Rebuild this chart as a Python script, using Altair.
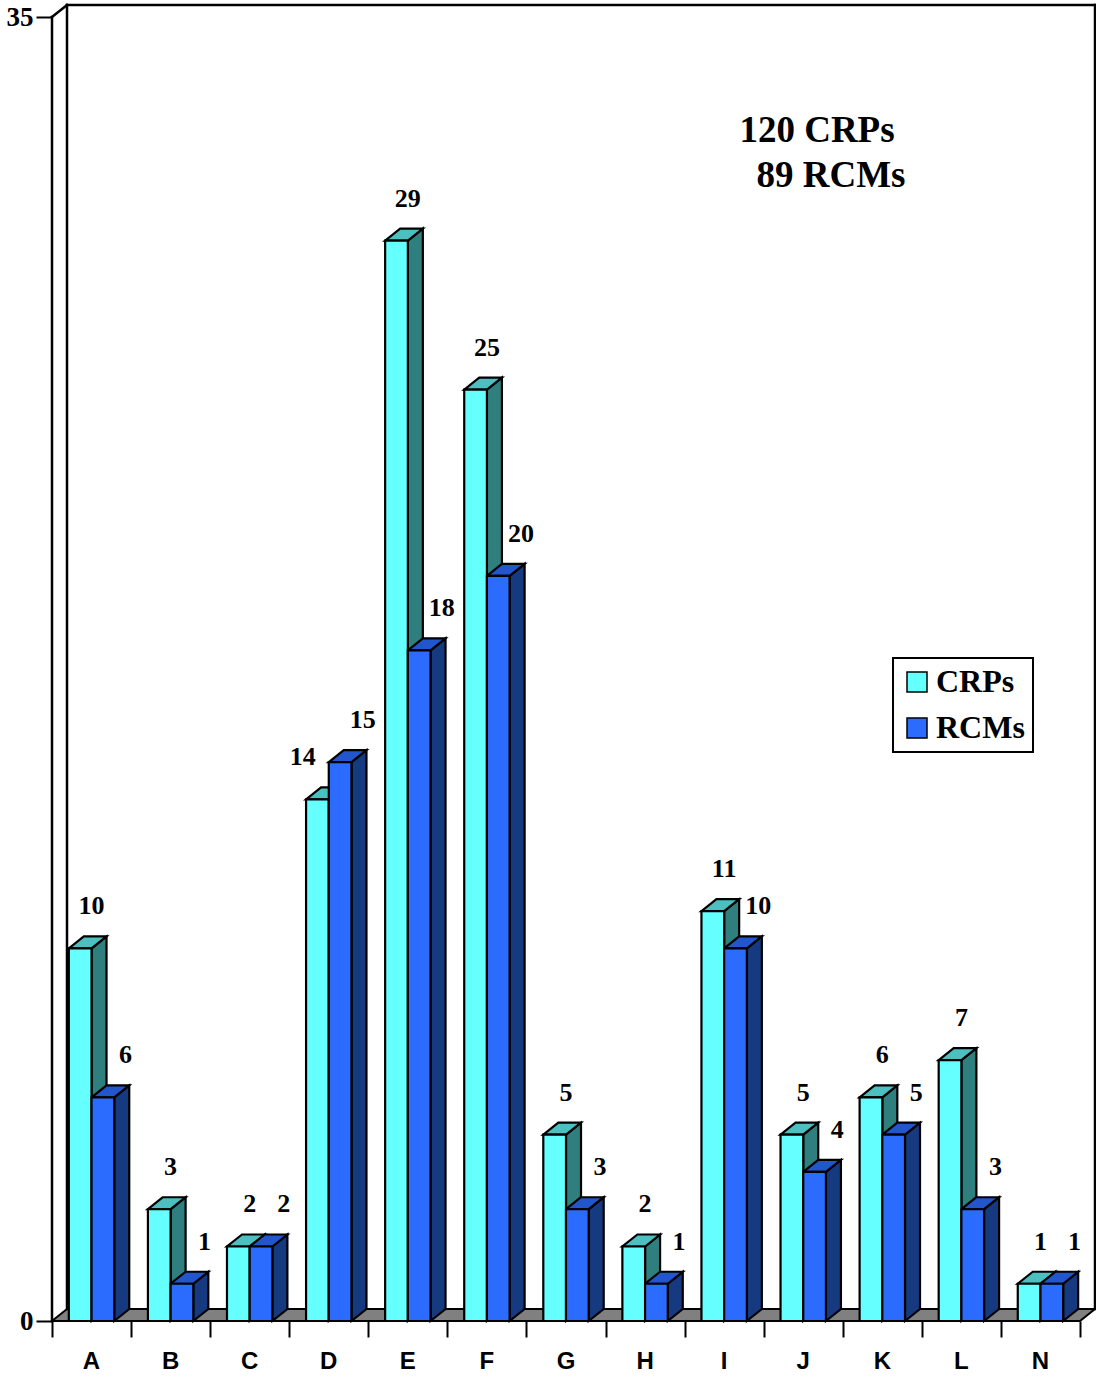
import altair as alt
import pandas as pd

# ---------------- data ----------------
categories = ["A", "B", "C", "D", "E", "F", "G", "H", "I", "J", "K", "L", "N"]
crps = [10, 3, 2, 14, 29, 25, 5, 2, 11, 5, 6, 7, 1]
rcms = [6, 1, 2, 15, 18, 20, 3, 1, 10, 4, 5, 3, 1]
series_names = ["CRPs", "RCMs"]
y_ticks = [0, 35]
note_lines = ["120 CRPs", "89 RCMs"]

# ---------------- geometry / style ----------------
PLOT_W, PLOT_H = 1044, 1316
N = len(categories)
PX_X = 1028 / N          # pixels per category
PX_Y = 1304 / 35         # pixels per unit
X_MAX = PLOT_W / PX_X
Y_MAX = PLOT_H / PX_Y
DX = 15 / PX_X           # depth offset (x)
DY = 12 / PX_Y           # depth offset (y)
BW = 22.7 / PX_X         # bar width

front_col = {"CRPs": "#66FFFF", "RCMs": "#2B6CFF"}
top_col = {"CRPs": "#4CC0C0", "RCMs": "#2256CC"}
side_col = {"CRPs": "#2F7F7F", "RCMs": "#163A80"}

xs = alt.Scale(domain=[0, X_MAX], nice=False, zero=False)
ys = alt.Scale(domain=[0, Y_MAX], nice=False, zero=False)
xax = alt.Axis(values=list(range(N + 1)), labels=False, domain=False, grid=False,
               tickSize=16, tickWidth=2, tickColor="black", title=None)
yax = alt.Axis(values=y_ticks, domain=False, grid=False, tickSize=16, tickWidth=2,
               tickColor="black", labelFont="Liberation Serif", labelFontWeight="bold",
               labelFontSize=27, labelColor="black", labelPadding=3, title=None)


def X(f):
    return alt.X(f"{f}:Q", scale=xs, axis=xax, title=None)


def Y(f):
    return alt.Y(f"{f}:Q", scale=ys, axis=yax, title=None)


# ---------------- build tables ----------------
fronts, sides, tops, labels = [], [], [], []
for i, cat in enumerate(categories):
    c = i + 0.5
    for s, vals in zip(series_names, [crps, rcms]):
        v = vals[i]
        x0 = c - BW if s == "CRPs" else c
        x1 = x0 + BW
        key = f"{cat}-{s}"
        fronts.append({"key": key, "series": s, "x": x0, "x2": x1, "y": 0, "y2": v})
        sides.append({"key": key, "series": s, "x": x1, "y": 0, "y2": v, "fill": side_col[s]})
        sides.append({"key": key, "series": s, "x": x1 + DX, "y": DY, "y2": v + DY, "fill": side_col[s]})
        tops.append({"key": key, "series": s, "y": v, "x": x0, "x2": x1, "fill": top_col[s]})
        tops.append({"key": key, "series": s, "y": v + DY, "x": x0 + DX, "x2": x1 + DX, "fill": top_col[s]})
        if s == "CRPs":
            lx = c - (0 if crps[i] >= rcms[i] else 26) / PX_X
        else:
            lx = c + 34 / PX_X
        labels.append({"x": lx, "y": v + 42 / PX_Y, "t": str(v)})

fronts = pd.DataFrame(fronts)
sides = pd.DataFrame(sides)
tops = pd.DataFrame(tops)
labels = pd.DataFrame(labels)
cats = pd.DataFrame({"x": [i + 0.5 for i in range(N)], "y": -41 / PX_Y, "t": categories})

frame = pd.DataFrame([
    {"x": 0, "y": 0, "x2": 0, "y2": 35},
    {"x": 0, "y": 35, "x2": DX, "y2": 35 + DY},
    {"x": DX, "y": DY, "x2": DX, "y2": 35 + DY},
    {"x": DX, "y": 35 + DY, "x2": X_MAX, "y2": 35 + DY},
    {"x": N + DX, "y": DY, "x2": N + DX, "y2": 35 + DY},
])
floor = pd.DataFrame([
    {"y": 0, "x": 0, "x2": N},
    {"y": DY, "x": DX, "x2": N + DX},
])
notes = pd.DataFrame({
    "x": [(817 - 52) / PX_X, (831 - 52) / PX_X],
    "y": [(1321 - 131) / PX_Y, (1321 - 176) / PX_Y],
    "t": note_lines,
})

# ---------------- layers ----------------
frame_layer = alt.Chart(frame).mark_rule(color="black", strokeWidth=2.5, strokeCap="square").encode(
    x=X("x"), y=Y("y"), x2="x2:Q", y2="y2:Q")

floor_layer = alt.Chart(floor).mark_area(orient="horizontal", fill="#808080", stroke="black",
                                         strokeWidth=2, strokeJoin="miter").encode(
    y=Y("y"), x=X("x"), x2="x2:Q")

side_layer = alt.Chart(sides).mark_area(orient="vertical", stroke="black", strokeWidth=2.2,
                                        strokeJoin="miter").encode(
    x=X("x"), y=Y("y"), y2="y2:Q", detail="key:N",
    fill=alt.Fill("fill:N", scale=None))


def top_layer(s):
    return alt.Chart(tops[tops.series == s]).mark_area(orient="horizontal", stroke="black",
                                                       strokeWidth=2.2, strokeJoin="miter").encode(
        y=Y("y"), x=X("x"), x2="x2:Q", detail="key:N",
        fill=alt.Fill("fill:N", scale=None))


front_layer = alt.Chart(fronts).mark_rect(stroke="black", strokeWidth=2.2, strokeJoin="miter").encode(
    x=X("x"), x2="x2:Q", y=Y("y"), y2="y2:Q",
    fill=alt.Fill("series:N",
                  scale=alt.Scale(domain=series_names, range=[front_col[s] for s in series_names]),
                  legend=alt.Legend(title=None, orient="none", legendX=841, legendY=653,
                                    fillColor="white", strokeColor="black",
                                    padding=8, symbolType="square", symbolSize=400,
                                    symbolStrokeColor="black", symbolStrokeWidth=1.5,
                                    symbolOpacity=1, labelFont="Liberation Serif",
                                    labelFontWeight="bold", labelFontSize=32,
                                    labelColor="black", labelOffset=3, rowPadding=14,
                                    labelExpr="datum.label + '   '",
                                    labelLimit=300)))

label_layer = alt.Chart(labels).mark_text(font="Liberation Serif", fontWeight="bold", fontSize=26,
                                          color="black", align="center", baseline="middle").encode(
    x=X("x"), y=Y("y"), text="t:N")

cat_layer = alt.Chart(cats).mark_text(font="Liberation Sans", fontWeight="bold", fontSize=24,
                                      color="black", align="center", baseline="middle").encode(
    x=X("x"), y=Y("y"), text="t:N")

note_layer = alt.Chart(notes).mark_text(font="Liberation Serif", fontWeight="bold", fontSize=37,
                                        color="black", align="center", baseline="middle").encode(
    x=X("x"), y=Y("y"), text="t:N")

chart = alt.layer(
    floor_layer, frame_layer, side_layer, top_layer("CRPs"), top_layer("RCMs"), front_layer,
    label_layer, cat_layer, note_layer,
).properties(
    width=PLOT_W, height=PLOT_H,
    autosize=alt.AutoSizeParams(type="none"),
    padding={"left": 52, "top": 5, "right": 0, "bottom": 57},
).configure_view(stroke=None).configure_legend(strokeWidth=2)

chart.save("out.html", embed_options={"renderer": "svg", "actions": False})
